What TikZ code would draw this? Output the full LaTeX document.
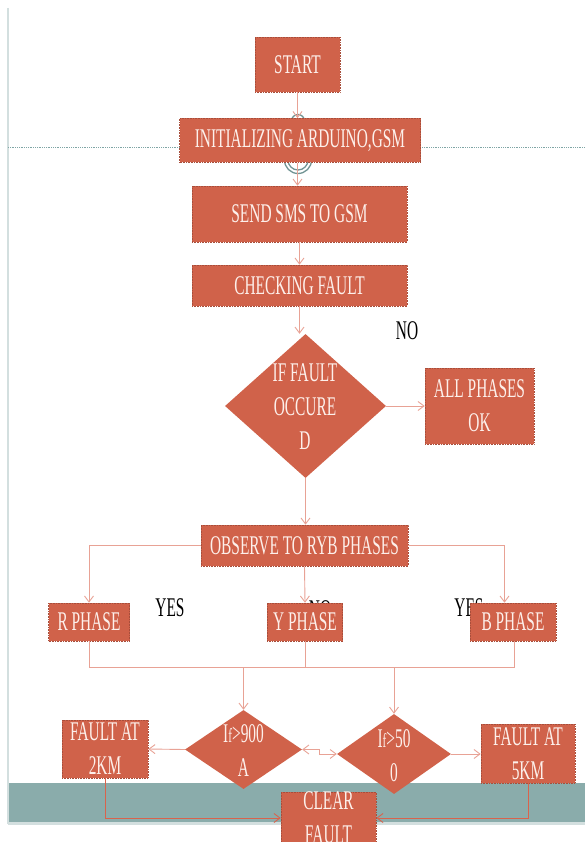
\documentclass[tikz,border=0pt]{standalone}
\usepackage{fontspec}
\usetikzlibrary{arrows.meta,shapes.geometric,calc}
\newfontfamily\cf[FakeStretch=0.57]{Liberation Serif}
\definecolor{boxfill}{HTML}{D0624A}
\definecolor{boxline}{HTML}{A84E3B}
\definecolor{conn}{HTML}{E8A295}
\definecolor{connd}{HTML}{D9634C}
\definecolor{boxtext}{HTML}{FDF0EB}
\definecolor{teal}{HTML}{8AACAB}
\definecolor{tealline}{HTML}{7FA5A5}
\definecolor{paleline}{HTML}{D3DFDF}
\tikzset{
  fbox/.style={draw=boxline, densely dotted, line width=0.6pt, fill=boxfill, text=boxtext,
    inner sep=0pt, align=center, font=\cf\fontsize{27}{34}\selectfont},
  fdia/.style={shape=diamond, fill=boxfill, inner sep=0pt, aspect=1},
  dtext/.style={text=boxtext, align=center, inner sep=0pt, font=\cf\fontsize{27}{34}\selectfont},
  lbl/.style={text=black, inner sep=0pt, font=\cf\fontsize{27}{34}\selectfont},
  cn/.style={draw=conn, line width=0.9pt, -{Straight Barb[length=6pt,width=9pt]}},
  cnl/.style={draw=conn, line width=0.9pt},
  cnd/.style={draw=connd, line width=0.9pt, -{Straight Barb[length=6pt,width=9pt]}},
  handle/.style={draw=tealline!90!black, line width=1.3pt}
}
\begin{document}
\begin{tikzpicture}[x=1pt,y=-1pt]
\useasboundingbox (0,0) rectangle (585,842);
% background page elements
\fill[teal] (8,783) rectangle (585,822);
\draw[paleline, line width=2.5pt] (8,823.5) -- (585,823.5);
\draw[paleline, line width=2pt] (8,8) -- (8,824);
\draw[tealline, densely dotted, line width=0.8pt] (8,147) -- (585,147);
% handles around the initializing box
\draw[handle] (298,121) circle (6.5);
\draw[handle] (298,160) circle (10);
\draw[handle] (298,160) circle (13.5);

% labels partly hidden by boxes
\node[lbl] (no1) at (407,331) {NO};
\node[lbl] (yes1) at (170,608) {YES};
\node[lbl] (no2) at (320,610) {NO};
\node[lbl] (yes2) at (469,608) {YES};

% nodes
\node[fbox, minimum width=85pt, minimum height=55pt] (start) at (297.5,64.5) {START};
\node[fbox, minimum width=241pt, minimum height=44pt] (init) at (300,140.5) {INITIALIZING ARDUINO,GSM};
\node[fbox, minimum width=215pt, minimum height=56pt] (sms) at (299.5,214) {SEND SMS TO GSM};
\node[fbox, minimum width=215pt, minimum height=41pt] (check) at (299.5,285.5) {CHECKING FAULT};
\node[fdia, minimum width=161pt, minimum height=144pt] (d0) at (305.5,406) {};
\node[dtext] (d0t) at (305,407) {IF FAULT\\OCCURE\\D};
\node[fbox, minimum width=109pt, minimum height=76pt] (allok) at (479.5,406) {ALL PHASES\\OK};
\node[fbox, minimum width=207pt, minimum height=41pt] (obs) at (304.5,545.5) {OBSERVE TO RYB PHASES};
\node[fbox, minimum width=81pt, minimum height=38pt] (rph) at (89,622) {R PHASE};
\node[fbox, minimum width=75.5pt, minimum height=38pt] (yph) at (305,622) {Y PHASE};
\node[fbox, minimum width=86pt, minimum height=38pt] (bph) at (513,622) {B PHASE};
\node[fdia, minimum width=117pt, minimum height=79pt] (d1) at (243.5,749.5) {};
\node[dtext] (d1t) at (243.5,751) {I{\fontsize{20}{20}\selectfont f}>900\\A};
\node[fdia, minimum width=114pt, minimum height=80pt] (d2) at (394,754) {};
\node[dtext] (d2t) at (394,756) {I{\fontsize{20}{20}\selectfont f}>50\\0};
\node[fbox, minimum width=86pt, minimum height=58pt] (f2) at (105,749) {FAULT AT\\2KM};
\node[fbox, minimum width=94pt, minimum height=59pt] (f5) at (528,753.5) {FAULT AT\\5KM};
\node[fbox, minimum width=95pt, minimum height=50pt] (clr) at (328.5,818) {CLEAR\\FAULT};

% junction coordinates
\coordinate (jl) at (89,667);
\coordinate (jr) at (514,667);
\coordinate (ja) at (243.5,667);
\coordinate (jb) at (394,667);

% connectors
\draw[cn] (start.south) -- (start.south |- init.north);
\draw[cn] (start.south |- init.south) -- (start.south |- sms.north);
\draw[cn] (sms.south) -- (sms.south |- check.north);
\draw[cn] (check.south) -- (check.south |- d0.north);
\draw[cn] (d0.east) -- (allok.west);
\draw[cn] (d0.south) -- (d0.south |- obs.north);
\draw[cn] (obs.west) -| (rph.north);
\draw[cn] (obs.south) -- (yph.north);
\draw[cn] (obs.east) -| ([xshift=-8.5pt]bph.north);
\draw[cnl] (rph.south) -- (jl) -- (jr) -- (jr |- bph.south);
\draw[cnl] (yph.south) -- (yph.south |- jl);
\draw[cn] (ja) -- (d1.north);
\draw[cn] (jb) -- (d2.north);
\draw[cn] (d1.west) -- (f2.east);
\draw[draw=conn, line width=0.9pt, {Straight Barb[length=6pt,width=9pt]}-{Straight Barb[length=6pt,width=9pt]}] (d1.east) -- ++(17,0) |- (d2.west);
\draw[cn] (d2.east) -- (d2.east -| f5.west);
\draw[cnd] (f2.south) |- (clr.west);
\draw[cnd] (f5.south) |- (clr.east);
\end{tikzpicture}
\end{document}
